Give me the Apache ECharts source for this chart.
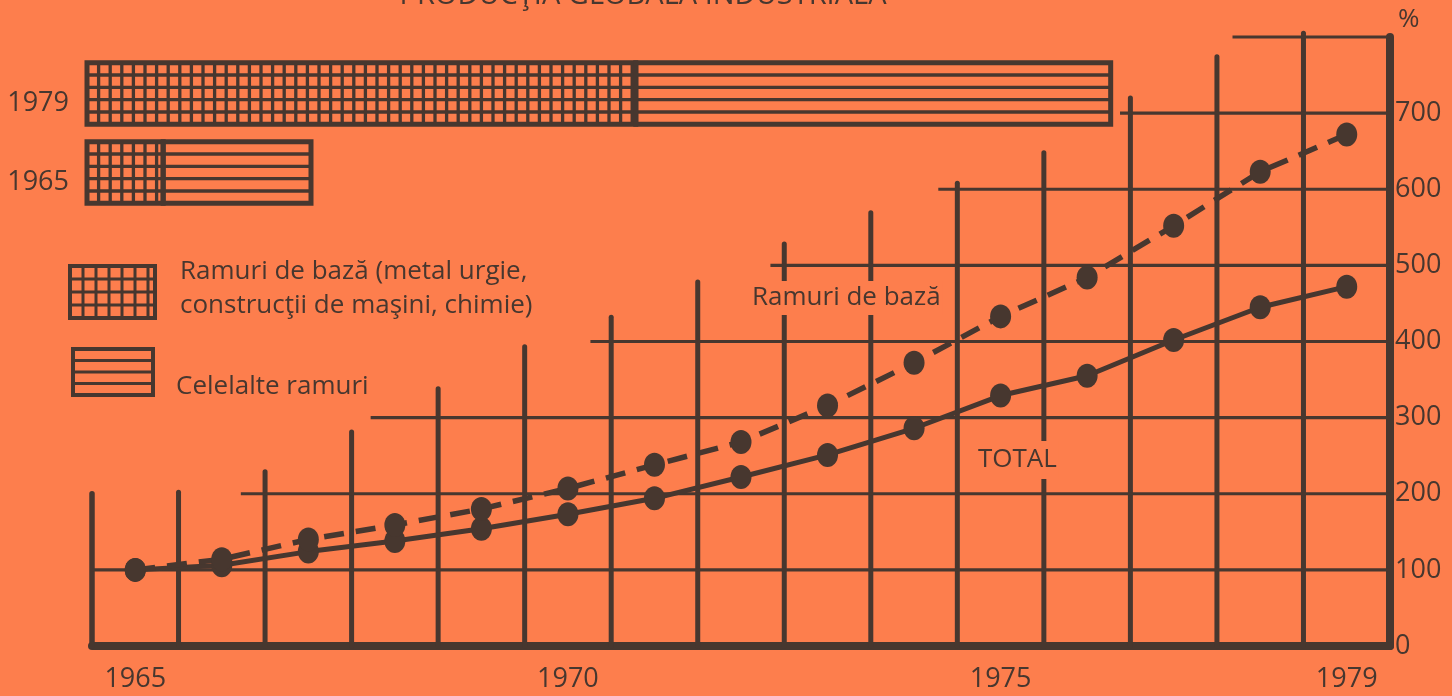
<!DOCTYPE html>
<html><head><meta charset="utf-8">
<script src="https://cdn.jsdelivr.net/npm/echarts@6/dist/echarts.min.js"></script>
<style>html,body{margin:0;padding:0;background:#fd7e4d}#c{width:1452px;height:696px}</style>
</head><body><div id="c"></div>
<script>
// ---- data ----
const years = ['1965','1966','1967','1968','1969','1970','1971','1972','1973','1974','1975','1976','1977','1978','1979'];
const yearLabels = ['1965','1970','1975','1979'];
const totalIndex = [100,106,124,138,154,173,194,222,251,286,329,355,402,445,472];
const baseIndex  = [100,114,140,159,180,207,238,268,316,372,433,484,552,623,672];
const yMax = 800;
const yStep = 100;
// background staircase grid (value space: column index 0..15, percent level)
const gridColumnTops = [200,202,229,281,338,393,432,478,528,569,608,648,720,774,805];
const gridRowLevels  = [100,200,300,400,500,600,700,800];
const gridRowStarts  = [0,1.72,3.22,5.76,7.84,9.78,11.88,13.18];
// structure bars
const barYears   = ['1965','1979'];
const baseShare  = [34,245];
const otherShare = [66,212];

const INK = '#47372f';
const BG = '#fd7e4d';
const FONT = '"Open Sans", "Noto Sans", sans-serif';

function hatch(x, y, w, h, kind, cellW, rows, bw, lw) {
  const ch = [];
  const rowH = h / rows;
  for (let r = 1; r < rows; r++) {
    ch.push({type:'line', shape:{x1:x, y1:y + r*rowH, x2:x + w, y2:y + r*rowH}, style:{stroke:INK, lineWidth:lw}});
  }
  if (kind === 0) {
    for (let cx = x + cellW; cx < x + w - 3; cx += cellW) {
      ch.push({type:'line', shape:{x1:cx, y1:y, x2:cx, y2:y + h}, style:{stroke:INK, lineWidth:lw}});
    }
  }
  ch.push({type:'rect', shape:{x:x, y:y, width:w, height:h}, style:{fill:'transparent', stroke:INK, lineWidth:bw}});
  return ch;
}

const barData = [];
barYears.forEach((y, i) => {
  barData.push([i, 0, baseShare[i], 0]);
  barData.push([i, baseShare[i], baseShare[i] + otherShare[i], 1]);
});

const chart = echarts.init(document.getElementById('c'));
chart.setOption({
  backgroundColor: BG,
  animation: false,
  grid: [
    {left: 92, right: 62, top: 37, bottom: 50},
    {left: 87, top: 54, height: 158, width: 1120}
  ],
  xAxis: [
    {type:'category', gridIndex:0, data:years, boundaryGap:true,
     axisLine:{show:true, lineStyle:{color:INK, width:8}},
     axisTick:{show:false},
     axisLabel:{interval:(i, v) => yearLabels.indexOf(v) >= 0, color:INK, fontSize:27, fontFamily:FONT, margin:20},
     splitLine:{show:false}},
    {type:'value', gridIndex:0, min:0, max:years.length, show:false},
    {type:'value', gridIndex:1, min:0, max:500, show:false}
  ],
  yAxis: [
    {type:'value', gridIndex:0, position:'right', min:0, max:yMax, interval:yStep,
     name:'%', nameLocation:'end', nameGap:4,
     nameTextStyle:{color:INK, fontSize:26, fontFamily:FONT, align:'left', padding:[0,0,0,8]},
     axisLine:{show:true, onZero:false, lineStyle:{color:INK, width:8}},
     axisTick:{show:false},
     axisLabel:{color:INK, fontSize:27, fontFamily:FONT, margin:5, formatter:(v) => v === yMax ? '' : String(v)},
     splitLine:{show:false}},
    {type:'category', gridIndex:1, data:barYears,
     axisLine:{show:false}, axisTick:{show:false},
     axisLabel:{color:INK, fontSize:27, fontFamily:FONT, margin:18, verticalAlign:'top', padding:[-4,0,0,0]}}
  ],
  series: [
    {type:'custom', name:'vgrid', xAxisIndex:1, yAxisIndex:0, z:1, clip:false, silent:true,
     data: gridColumnTops.map((t, k) => [k, t]),
     renderItem: (params, api) => {
       const k = api.value(0), top = api.value(1);
       const p0 = api.coord([k, 0]), p1 = api.coord([k, top]);
       return {type:'line', shape:{x1:p0[0], y1:p0[1], x2:p1[0], y2:p1[1]}, style:{stroke:INK, lineWidth:k === 0 ? 5.5 : 5, lineCap:'round'}};
     }},
    {type:'custom', name:'hgrid', xAxisIndex:1, yAxisIndex:0, z:1, clip:false, silent:true,
     data: gridRowLevels.map((v, i) => [gridRowStarts[i], v]),
     renderItem: (params, api) => {
       const s = api.value(0), v = api.value(1);
       const p0 = api.coord([s, v]), p1 = api.coord([years.length, v]);
       return {type:'line', shape:{x1:p0[0], y1:p0[1], x2:p1[0], y2:p1[1]}, style:{stroke:INK, lineWidth:3.2}};
     }},
    {type:'line', name:'TOTAL', data: totalIndex, xAxisIndex:0, yAxisIndex:0, z:3,
     symbol:'circle', symbolSize:[21,24], itemStyle:{color:INK},
     lineStyle:{color:INK, width:5}},
    {type:'line', name:'Ramuri de bază', data: baseIndex, xAxisIndex:0, yAxisIndex:0, z:3,
     symbol:'circle', symbolSize:[21,24], itemStyle:{color:INK},
     lineStyle:{color:INK, width:5.5, type:[20,12]}},
    {type:'custom', name:'structura', xAxisIndex:2, yAxisIndex:1, z:2, clip:false,
     encode:{x:[1,2], y:0},
     data: barData,
     renderItem: (params, api) => {
       const c = api.value(0), a = api.value(1), b = api.value(2), kind = api.value(3);
       const p0 = api.coord([a, c]), p1 = api.coord([b, c]);
       const h = api.size([0, 1])[1] * 0.78;
       return {type:'group', children: hatch(p0[0], p0[1] - h/2, p1[0] - p0[0], h, kind, 11.6, 5, 5, 3.3)};
     }}
  ],
  graphic: [
    {type:'text', x:643, y:-4, z:10, style:{text:'PRODUCŢIA GLOBALĂ INDUSTRIALĂ', font:'29px ' + FONT, fill:INK, align:'center', verticalAlign:'middle'}},
    {type:'group', z:10, children: hatch(70, 266, 85, 52, 0, 13, 4, 4, 3)},
    {type:'group', z:10, children: hatch(73, 349, 80, 46, 1, 0, 4, 4, 3)},
    {type:'text', z:10, x:180, y:272, style:{text:'Ramuri de bază (metal urgie,', font:'26px ' + FONT, fill:INK, verticalAlign:'middle'}},
    {type:'text', z:10, x:180, y:306, style:{text:'construcţii de maşini, chimie)', font:'26px ' + FONT, fill:INK, verticalAlign:'middle'}},
    {type:'text', z:10, x:176, y:387, style:{text:'Celelalte ramuri', font:'26px ' + FONT, fill:INK, verticalAlign:'middle'}},
    {type:'text', z:10, x:750, y:298, style:{text:'Ramuri de bază', font:'26px ' + FONT, fill:INK, verticalAlign:'middle', backgroundColor:BG, padding:[4,2]}},
    {type:'text', z:10, x:976, y:460, style:{text:'TOTAL', font:'26px ' + FONT, fill:INK, verticalAlign:'middle', backgroundColor:BG, padding:[6,2]}}
  ]
});
</script></body></html>
